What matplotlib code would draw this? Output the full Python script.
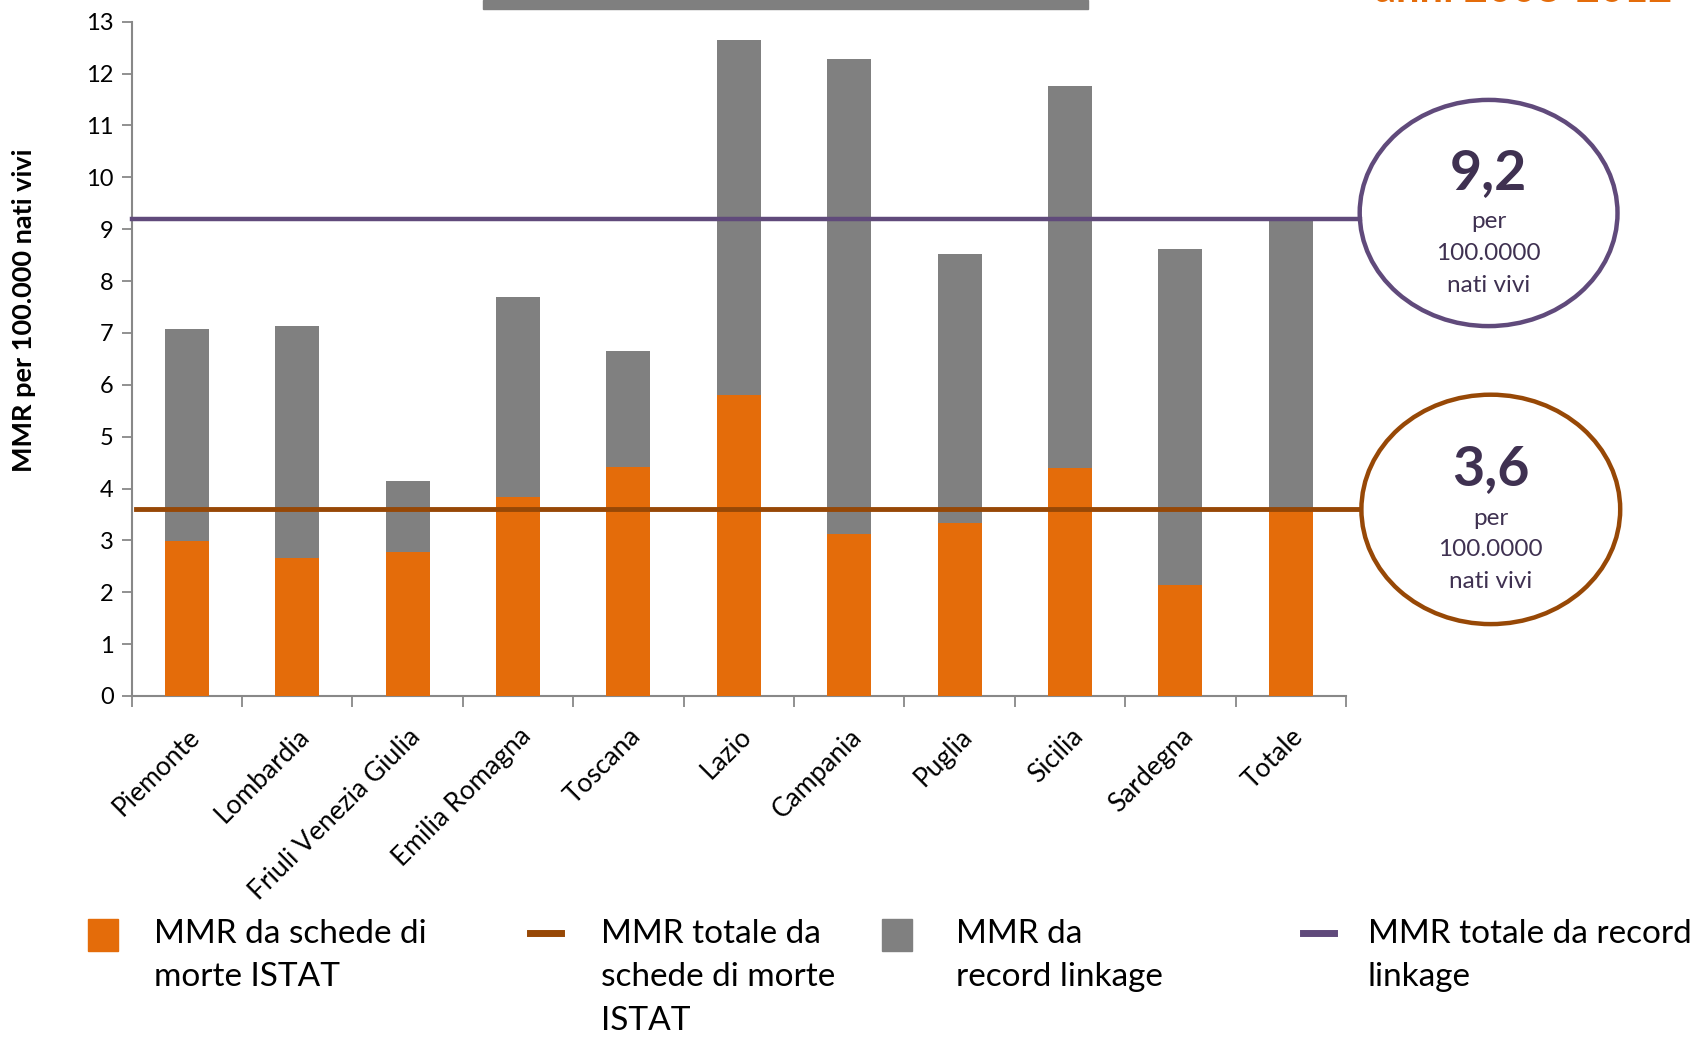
import matplotlib
matplotlib.use("Agg")
import matplotlib.pyplot as plt
import matplotlib.transforms as mtransforms
from matplotlib.patches import Ellipse, Rectangle
from matplotlib.lines import Line2D
import numpy as np

plt.rcParams['font.family'] = ['Lato', 'DejaVu Sans']

# dati
regioni = ["Piemonte", "Lombardia", "Friuli Venezia Giulia", "Emilia Romagna",
           "Toscana", "Lazio", "Campania", "Puglia", "Sicilia", "Sardegna", "Totale"]
mmr_istat = [2.98, 2.66, 2.77, 3.84, 4.42, 5.81, 3.12, 3.33, 4.40, 2.14, 3.6]
mmr_linkage = [7.07, 7.13, 4.15, 7.70, 6.65, 12.64, 12.29, 8.53, 11.76, 8.62, 9.2]
tot_istat = 3.6
tot_linkage = 9.2

legenda = ["MMR da schede di\nmorte ISTAT",
           "MMR totale da\nschede di morte\nISTAT",
           "MMR da\nrecord linkage",
           "MMR totale da record\nlinkage"]

ARANCIO = "#E46C0A"
GRIGIO = "#808080"
MARRONE = "#974806"
VIOLA = "#604A7B"
VIOLA_SCURO = "#3F3151"
ASSE = "#888888"

W, H = 1705, 1038
fig = plt.figure(figsize=(W / 100, H / 100), dpi=100)

def fx(px):
    return px / W

def fy(py):
    return 1 - py / H

ax_l, ax_r, ax_t, ax_b = 131.6, 1346, 21.7, 696
ax = fig.add_axes([fx(ax_l), fy(ax_b), fx(ax_r - ax_l), (ax_b - ax_t) / H])

x = np.arange(len(regioni))
ax.bar(x, mmr_linkage, width=0.4, color=GRIGIO, zorder=2)
ax.bar(x, mmr_istat, width=0.4, color=ARANCIO, zorder=3)

ax.set_xlim(-0.5, len(regioni) - 0.5)
ax.set_ylim(0, 13)
ax.set_yticks(range(0, 14))
ax.tick_params(axis='y', labelsize=17, length=7, width=1.3, color=ASSE, pad=6)

ax.set_xticks(x)
ax.set_xticklabels(regioni, rotation=45, ha='right', rotation_mode='anchor', fontsize=19)
ax.tick_params(axis='x', length=0, pad=20)
ax.set_xticks(np.arange(-0.5, len(regioni)), minor=True)
ax.tick_params(axis='x', which='minor', length=8, width=1.3, color=ASSE)

for s in ['top', 'right']:
    ax.spines[s].set_visible(False)
for s in ['left', 'bottom']:
    ax.spines[s].set_color(ASSE)
    ax.spines[s].set_linewidth(1.5)

fig.text(fx(24), fy(310), "MMR per 100.000 nati vivi", fontsize=19.5,
         fontweight='bold', rotation=90, ha='center', va='center')

# linee dei totali verso i cerchi
blend = mtransforms.blended_transform_factory(ax.transAxes, ax.transData)
x_fine = (1360 - ax_l) / (ax_r - ax_l)
ax.plot([0, x_fine], [tot_linkage, tot_linkage], color=VIOLA, lw=3.2,
        transform=blend, clip_on=False, zorder=4)
ax.plot([0.004, x_fine], [tot_istat, tot_istat], color=MARRONE, lw=3.5,
        transform=blend, clip_on=False, zorder=4)

# cerchi con i valori totali
cerchi = [(1488.6, 213, 128.9, 113.1, VIOLA, "9,2"),
          (1490.8, 509.4, 129.4, 114.7, MARRONE, "3,6")]
for cx, cy, rx, ry, col, val in cerchi:
    fig.patches.append(Ellipse((fx(cx), fy(cy)), 2 * rx / W, 2 * ry / H,
                               transform=fig.transFigure, fill=False,
                               edgecolor=col, lw=3.2))
    fig.text(fx(cx), fy(cy - 40), val, fontsize=40, fontweight='bold',
             color=VIOLA_SCURO, ha='center', va='center')
    for i, riga in enumerate(["per", "100.0000", "nati vivi"]):
        fig.text(fx(cx), fy(cy + 9 + 31.5 * i), riga, fontsize=17.5,
                 color=VIOLA_SCURO, ha='center', va='center')

# elementi di testata tagliati
fig.patches.append(Rectangle((fx(483), fy(9)), fx(605), 9 / H,
                             transform=fig.transFigure, color="#7F7F7F"))
fig.text(fx(1375), fy(2), "anni 2008-2012", fontsize=30, fontweight='bold',
         color=ARANCIO, ha='left', va='baseline')

# legenda
voci = [("patch", ARANCIO, 88, 154),
        ("line", MARRONE, 530, 601),
        ("patch", GRIGIO, 882, 956),
        ("line", VIOLA, 1303, 1368)]
for (tipo, col, xm, xt), testo in zip(voci, legenda):
    if tipo == "patch":
        fig.patches.append(Rectangle((fx(xm), fy(951)), fx(30), 32 / H,
                                     transform=fig.transFigure, color=col))
    else:
        fig.lines.append(Line2D([fx(xm), fx(xm + 31)], [fy(933), fy(933)],
                                transform=fig.transFigure, color=col, lw=5))
    fig.text(fx(xt), fy(919), testo, fontsize=24, color='black',
             ha='left', va='top', linespacing=1.56)

fig.savefig("out.png", dpi=100)
